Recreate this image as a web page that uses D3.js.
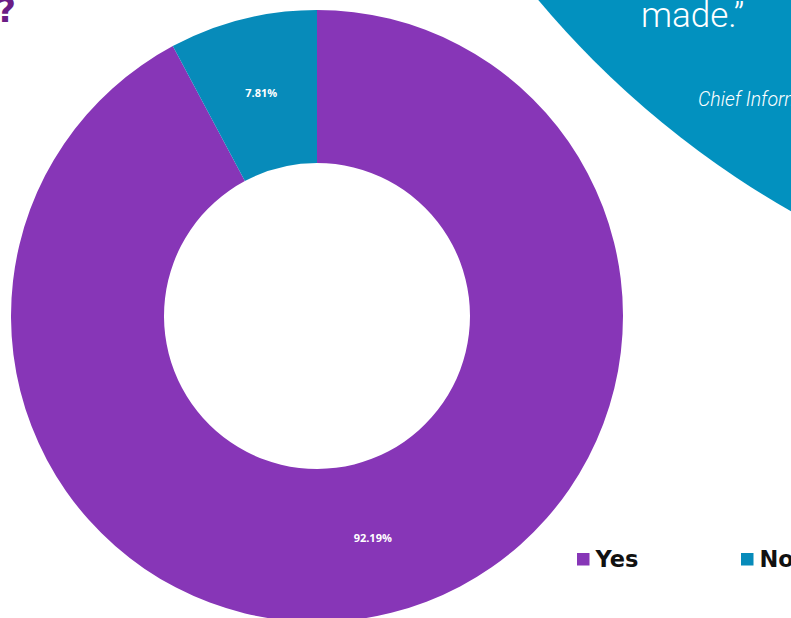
<!DOCTYPE html>
<html>
<head>
<meta charset="utf-8">
<script src="https://cdn.jsdelivr.net/npm/d3@7"></script>
<style>
  html, body { margin: 0; padding: 0; background: #ffffff; overflow: hidden; }
  svg { display: block; }
</style>
</head>
<body>
<svg id="chart" width="791" height="618"></svg>
<script>
// Survey answers and their shares (%)
const categories = ["Yes", "No"];
const values = [92.19, 7.81];
const sliceColors = ["#8736B7", "#078BBA"];
const valueLabels = ["92.19%", "7.81%"];

const svg = d3.select("#chart");

// Decorative quote bubble in the top-right corner
svg.append("circle")
  .attr("cx", 1259).attr("cy", -605).attr("r", 941)
  .attr("fill", "#0291BF");

svg.append("text")
  .attr("x", 641).attr("y", 27)
  .attr("fill", "#ffffff")
  .style("font-family", "Roboto, sans-serif")
  .style("font-weight", 300)
  .style("font-size", "35px")
  .text("made.\u201D");

svg.append("text")
  .attr("x", 698).attr("y", 106)
  .attr("fill", "#ffffff")
  .style("font-family", "Roboto, sans-serif")
  .style("font-weight", 300)
  .style("font-style", "italic")
  .style("font-size", "19.5px")
  .text("Chief Information Officer");

// Tail of the heading
svg.append("text")
  .attr("x", 16).attr("y", 22)
  .attr("text-anchor", "end")
  .attr("fill", "#6B1D85")
  .style("font-family", "'DejaVu Sans', sans-serif")
  .style("font-weight", 700)
  .style("font-size", "34px")
  .text("?");

// Donut
const cx = 317, cy = 316, outerR = 306, innerR = 153;
const color = d3.scaleOrdinal().domain(categories).range(sliceColors);

const pie = d3.pie().sort(null).value(d => d.value);
const arcs = pie(categories.map((c, i) => ({ cat: c, value: values[i], label: valueLabels[i] })));
const arc = d3.arc().innerRadius(innerR).outerRadius(outerR);

const g = svg.append("g").attr("transform", `translate(${cx},${cy})`);

g.selectAll("path.slice")
  .data(arcs)
  .join("path")
  .attr("class", "slice")
  .attr("d", arc)
  .attr("fill", d => color(d.data.cat));

g.selectAll("text.val")
  .data(arcs)
  .join("text")
  .attr("class", "val")
  .attr("transform", d => `translate(${arc.centroid(d)})`)
  .attr("text-anchor", "middle")
  .attr("dy", "0.35em")
  .attr("fill", "#ffffff")
  .style("font-family", "'Open Sans', sans-serif")
  .style("font-weight", 700)
  .style("font-size", "11px")
  .text(d => d.data.label);

// Legend
const legendX = [577, 741];
const legend = svg.append("g");
const items = legend.selectAll("g.item")
  .data(categories)
  .join("g")
  .attr("class", "item")
  .attr("transform", (d, i) => `translate(${legendX[i]},553)`);

items.append("rect")
  .attr("width", 12.5).attr("height", 12.5)
  .attr("fill", d => color(d));

items.append("text")
  .attr("x", 18.5).attr("y", 14)
  .attr("fill", "#111111")
  .style("font-family", "'DejaVu Sans', sans-serif")
  .style("font-weight", 700)
  .style("font-size", "22.5px")
  .text(d => d);
</script>
</body>
</html>
